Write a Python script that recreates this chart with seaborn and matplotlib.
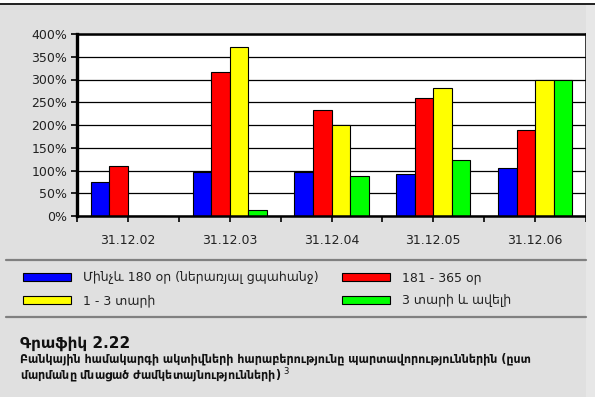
import numpy as np
import pandas as pd
import matplotlib
matplotlib.use("Agg")
import matplotlib.pyplot as plt
from matplotlib.lines import Line2D
from matplotlib.patches import Rectangle
import seaborn as sns

# Ratio of assets to liabilities by remaining maturity, in percent
dates = ["31.12.02", "31.12.03", "31.12.04", "31.12.05", "31.12.06"]
terms = ["Մինչև 180 օր (ներառյալ ցպահանջ)", "181 - 365 օր", "1 - 3 տարի", "3 տարի և ավելի"]
upto_180 = [74, 97, 97, 92, 105]
d181_365 = [110, 316, 233, 259, 188]
y1_3 = [0, 372, 201, 281, 298]
y3_plus = [0, 13, 88, 122, 300]
colors = ["#0000ff", "#ff0000", "#ffff00", "#00ff00"]
yticks = [0, 50, 100, 150, 200, 250, 300, 350, 400]

series = [upto_180, d181_365, y1_3, y3_plus]
df = pd.DataFrame({
    "date": np.repeat([dates], len(terms), axis=0).ravel(),
    "term": np.repeat(terms, len(dates)),
    "value": np.concatenate(series),
})

sns.set_theme(style="white")
plt.rcParams["font.family"] = ["DejaVu Sans"]

W, H = 595, 397
fig = plt.figure(figsize=(W / 100, H / 100), dpi=100)
fig.patch.set_facecolor("#e0e0e0")

# frame decorations
fig.add_artist(Rectangle((0, 1 - 3 / H), 1, 3 / H, transform=fig.transFigure,
                         facecolor="white", edgecolor="none"))
fig.add_artist(Rectangle((586 / W, 0), 9 / W, 1 - 4 / H, transform=fig.transFigure,
                         facecolor="#e7e7e7", edgecolor="none"))
fig.add_artist(Line2D([0, 1], [1 - 3.5 / H] * 2, transform=fig.transFigure,
                      color="black", lw=1.2))
for yy in (260, 317):
    fig.add_artist(Line2D([6 / W, 586 / W], [1 - yy / H] * 2, transform=fig.transFigure,
                          color="#808080", lw=1.6))

ax = fig.add_axes([77 / W, 1 - 216 / H, (586 - 77) / W, (216 - 34) / H])
ax.set_facecolor("white")

sns.barplot(data=df, x="date", y="value", hue="term", hue_order=terms,
            order=dates, palette=dict(zip(terms, colors)), width=0.73,
            edgecolor="black", linewidth=0.8, saturation=1, ax=ax)

ax.set_xlim(-0.5, len(dates) - 0.5)
ax.set_ylim(0, 400)
ax.set_yticks(yticks)
ax.set_yticklabels([f"{v}%" for v in yticks])
ax.set_xticks(np.arange(-0.5, len(dates), 1.0), minor=True)
ax.set_xlabel("")
ax.set_ylabel("")
ax.yaxis.grid(True, color="black", lw=0.9)
ax.set_axisbelow(True)
for s in ax.spines.values():
    s.set_color("black")
    s.set_linewidth(1.8)
ax.spines["left"].set_linewidth(2.4)
ax.tick_params(axis="both", which="both", direction="out", length=4, width=1.2,
               color="black", labelsize=9, labelcolor="#222222")
ax.tick_params(axis="x", which="major", pad=9)
ax.tick_params(axis="y", pad=3)
ax.tick_params(left=True, bottom=True)
ax.tick_params(axis="x", which="minor", bottom=True)

handles, labels = ax.get_legend_handles_labels()
ax.get_legend().remove()
order = [0, 2, 1, 3]
fig.legend([handles[i] for i in order], [labels[i] for i in order],
           ncol=2, loc="upper left", bbox_to_anchor=(12 / W, 1 - 260 / H),
           frameon=False, fontsize=9, handlelength=3.8, handleheight=0.7,
           handletextpad=1.0, labelspacing=0.8, columnspacing=1.85,
           labelcolor="#222222")

fig.text(20 / W, 1 - 343 / H, "Գրաֆիկ 2.22", fontsize=11, fontweight="bold",
         va="center", ha="left", color="#111111")
fig.text(20 / W, 1 - 368.5 / H,
         "Բանկային համակարգի ակտիվների հարաբերությունը պարտավորություններին (ըստ\n"
         "մարմանը մնացած ժամկետայնությունների) $^{3}$",
         fontsize=8.8, fontweight="bold", fontstretch="condensed", linespacing=1.05,
         va="center", ha="left", color="#111111")

fig.savefig("out.png", dpi=100, facecolor=fig.get_facecolor())
